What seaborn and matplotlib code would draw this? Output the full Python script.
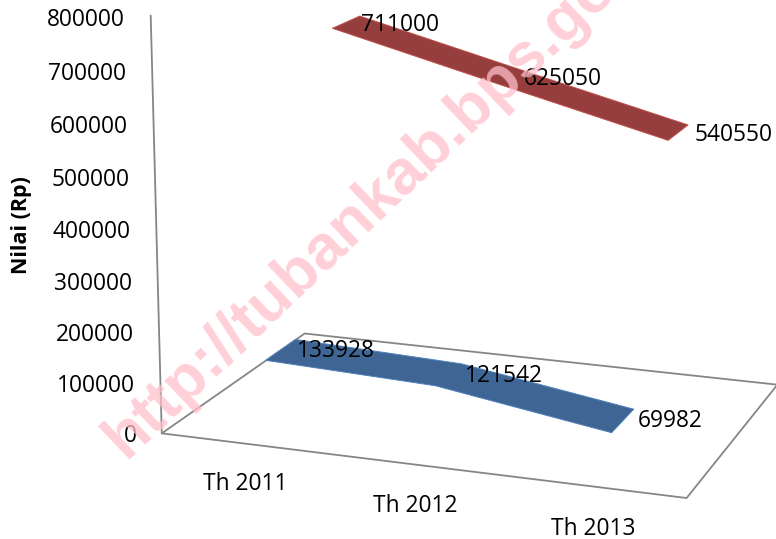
import numpy as np
import matplotlib
matplotlib.use("Agg")
import matplotlib.pyplot as plt
import seaborn as sns
from mpl_toolkits.mplot3d.art3d import Poly3DCollection

categories = ["Th 2011", "Th 2012", "Th 2013"]
series_blue = [133928, 121542, 69982]
series_red = [711000, 625050, 540550]
y_ticks = [0, 100000, 200000, 300000, 400000, 500000, 600000, 700000, 800000]
y_label = "Nilai (Rp)"
watermark = "http://tubankab.bps.go.id"

sns.set_theme(style="white")
plt.rcParams["font.family"] = ["Open Sans", "DejaVu Sans"]

W, H = 776, 539
fig = plt.figure(figsize=(W / 100, H / 100), dpi=100)
# camera fitted against the reference floor corners and ribbon ends
ax = fig.add_axes([94.5 / W, -54.5 / H, 748.9 / W, 748.9 / H], projection="3d")
ax.set_xlim(0, 3, view_margin=0)
ax.set_ylim(0, 2, view_margin=0)
ax.set_zlim(0, 800000, view_margin=0)
ax.view_init(14.280, -70.627, -0.206)
ax.set_proj_type("persp", focal_length=0.6754)
ax.set_box_aspect((1, 0.6738, 0.7808))
ax.set_axis_off()
ax.patch.set_alpha(0)

GREY = "#868686"
TXT = "black"
FS = 16.4
half_w = 0.2074  # ribbon half depth
xs = np.arange(len(categories)) + 0.5

ax.plot([0, 3, 3, 0, 0], [0, 0, 2, 2, 0], [0, 0, 0, 0, 0], color=GREY, lw=1.3)
ax.plot([0, 0], [0, 0], [0, 800000], color=GREY, lw=1.3)

for vals, d, fc, ec, nudge, drop in ((series_blue, 0.5, "#3E6594", "#4F81BD", [0.0, 0.015, 0.015], 24000),
                                     (series_red, 1.5, "#963D3D", "#C0504D", [0.0, 0.01, 0.035], 19000)):
    verts = [list(zip(xs, [d - half_w] * 3, vals)) + list(zip(xs[::-1], [d + half_w] * 3, vals[::-1]))]
    ax.add_collection3d(Poly3DCollection(verts, facecolor=fc, edgecolor=ec, lw=0.7))
    # value labels hang just under the back corner of the ribbon
    for x, v, n in zip(xs, vals, nudge):
        ax.text(x + 0.01 + n, d + half_w, v - drop, str(v), ha="left", va="center",
                fontsize=FS, color=TXT, zorder=10)

for v in y_ticks:
    ax.text(-0.155, 0, v - 12000, str(v), ha="right", va="center", fontsize=FS, color=TXT)

for x, c in zip(xs, categories):
    ax.text(x, 0, -80000, c, ha="center", va="center", fontsize=FS, color=TXT)

fig.text(22 / W, 1 - 225 / H, y_label, rotation=90, ha="center", va="center",
         fontsize=15.5, fontweight="bold", color="black")
fig.text(388 / W, 1 - 187 / H, watermark, rotation=43.6, ha="center", va="center",
         rotation_mode="anchor", family="Liberation Sans", fontweight="bold",
         fontsize=45.5, color="#FFC0CB", alpha=0.75, zorder=5)

fig.savefig("out.png", dpi=100)
